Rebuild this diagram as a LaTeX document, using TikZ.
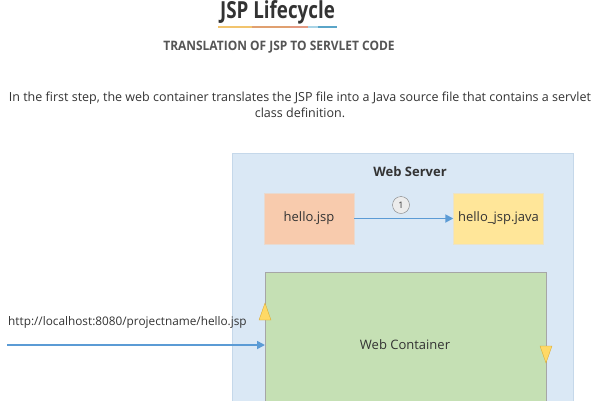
\documentclass[tikz,border=0pt]{standalone}
\usepackage{fontspec}
\setmainfont{Open Sans}
\newfontfamily\titlefont[FakeStretch=0.8]{Open Sans}
\newfontfamily\subfont[FakeStretch=0.92]{Open Sans}
\usetikzlibrary{arrows.meta}
\definecolor{txt}{HTML}{333333}
\definecolor{subc}{HTML}{555555}
\definecolor{srvbg}{HTML}{DAE8F5}
\definecolor{srvline}{HTML}{C5D8EA}
\definecolor{jspc}{HTML}{F8CBAD}
\definecolor{javac}{HTML}{FFE699}
\definecolor{contc}{HTML}{C5E0B4}
\definecolor{arrc}{HTML}{5B9BD5}
\definecolor{trif}{HTML}{FFD966}
\definecolor{trid}{HTML}{D6A32A}
\definecolor{ul1}{HTML}{F2C46D}
\definecolor{ul2}{HTML}{E0A070}
\definecolor{ul3}{HTML}{E39A82}
\definecolor{ul4}{HTML}{A9D4E6}
\definecolor{ul5}{HTML}{5AA5C8}
\begin{document}
\begin{tikzpicture}[x=1pt,y=-1pt,
  box/.style={draw=#1!80!black!40, fill=#1, minimum width=90pt, minimum height=51pt, inner sep=0pt, text=txt, font=\fontsize{13}{15}\selectfont},
  flow/.style={draw=arrc, line width=1.7pt, -{Triangle[length=8pt,width=8pt]}},
  tri/.style={fill=trif, draw=trid, line width=0.3pt}]
\useasboundingbox (0,0) rectangle (600,400);
\fill[white] (0,0) rectangle (600,400);
\node[font=\fontsize{23.5}{28}\selectfont\titlefont\bfseries, text=txt, anchor=base, inner sep=0pt] (title) at (277.5,18) {JSP Lifecycle};
\fill[ul1] (218,26) rectangle (252,28);
\fill[ul2] (252,26) rectangle (290,28);
\fill[ul3] (290,26) rectangle (308,28);
\fill[ul4] (308,26) rectangle (318,28);
\fill[ul5] (318,26) rectangle (337,28);
\node[font=\fontsize{13}{15}\selectfont\subfont\bfseries, text=subc] (sub) at (279,47) {TRANSLATION OF JSP TO SERVLET CODE};
\node[font=\fontsize{12.5}{16}\selectfont, text=txt, align=center, inner sep=0pt] (para) at (300,105) {In the first step, the web container translates the JSP file into a Java source file that contains a servlet\\class definition.};
\node[draw=srvline, fill=srvbg, minimum width=341pt, minimum height=260pt, anchor=north west, inner sep=0pt] (server) at (232,153) {};
\node[font=\fontsize{13}{15}\selectfont\bfseries, text=txt] (servlbl) at (410,172) {Web Server};
\node[box=jspc] (jsp) at (309,218.5) {hello.jsp};
\node[box=javac] (java) at (498.5,218.5) {hello\_jsp.java};
\draw[flow] (jsp) -- (java);
\node[circle, draw=gray, fill=gray!15, minimum size=17pt, inner sep=0pt, font=\fontsize{9}{10}\selectfont, text=txt] (step1) at (401,205) {1};
\node[draw=gray!70, fill=contc, minimum width=281pt, minimum height=150pt, anchor=north west, inner sep=0pt] (cont) at (265,272) {};
\node[text=txt, font=\fontsize{13}{15}\selectfont] (contlbl) at (405,345) {Web Container};
\coordinate (start) at (7,345);
\draw[flow] (start) -- (start -| cont.west);
\node[font=\fontsize{11.8}{14}\selectfont, text=txt, anchor=base west, inner sep=0pt] (url) at (8,325) {http://localhost:8080/projectname/hello.jsp};
\draw[tri] (265,303) -- (271,320) -- (259,320) -- cycle;
\draw[tri] (546,363) -- (552,346) -- (540,346) -- cycle;
\end{tikzpicture}
\end{document}
